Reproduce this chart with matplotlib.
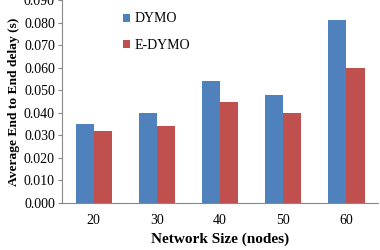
import numpy as np
import matplotlib
matplotlib.use("Agg")
import matplotlib.pyplot as plt

# data
sizes = ["20", "30", "40", "50", "60"]
dymo = [0.035, 0.040, 0.054, 0.048, 0.081]
edymo = [0.032, 0.034, 0.045, 0.040, 0.060]
yticks = [0.0, 0.01, 0.02, 0.03, 0.04, 0.05, 0.06, 0.07, 0.08, 0.09]

plt.rcParams['font.family'] = ['Liberation Serif', 'DejaVu Serif']

fig = plt.figure(figsize=(3.8, 2.5), dpi=100)
ax = fig.add_axes([0.163, 0.188, 0.832, 0.812])

x = np.arange(len(sizes))
w = 0.285
ax.bar(x - w/2, dymo, w, color="#4F81BD", label="DYMO")
ax.bar(x + w/2, edymo, w, color="#C0504D", label="E-DYMO")

ax.set_xlim(-0.5, len(sizes) - 0.5)
ax.set_ylim(0, 0.09)
ax.set_yticks(yticks)
ax.set_yticklabels([f"{v:.3f}" for v in yticks])
ax.set_xticks(x)
ax.set_xticklabels(sizes)
ax.tick_params(axis="x", length=0, labelsize=10, pad=8)
ax.tick_params(axis="y", length=3, color="#888888", labelsize=10, pad=2)

for s in ["top", "right"]:
    ax.spines[s].set_visible(False)
for s in ["left", "bottom"]:
    ax.spines[s].set_color("#888888")
    ax.spines[s].set_linewidth(0.8)

ax.set_xlabel("Network Size (nodes)", fontweight="bold", fontsize=11, labelpad=4)
ax.set_ylabel("Average End to End delay (s)", fontweight="bold", fontsize=9.7, labelpad=3)

ax.legend(loc="upper left", bbox_to_anchor=(0.155, 1.0), frameon=False,
          fontsize=10, handlelength=0.5, handleheight=0.5, handletextpad=0.3,
          labelspacing=1.0)

fig.savefig("out.png", dpi=100)
